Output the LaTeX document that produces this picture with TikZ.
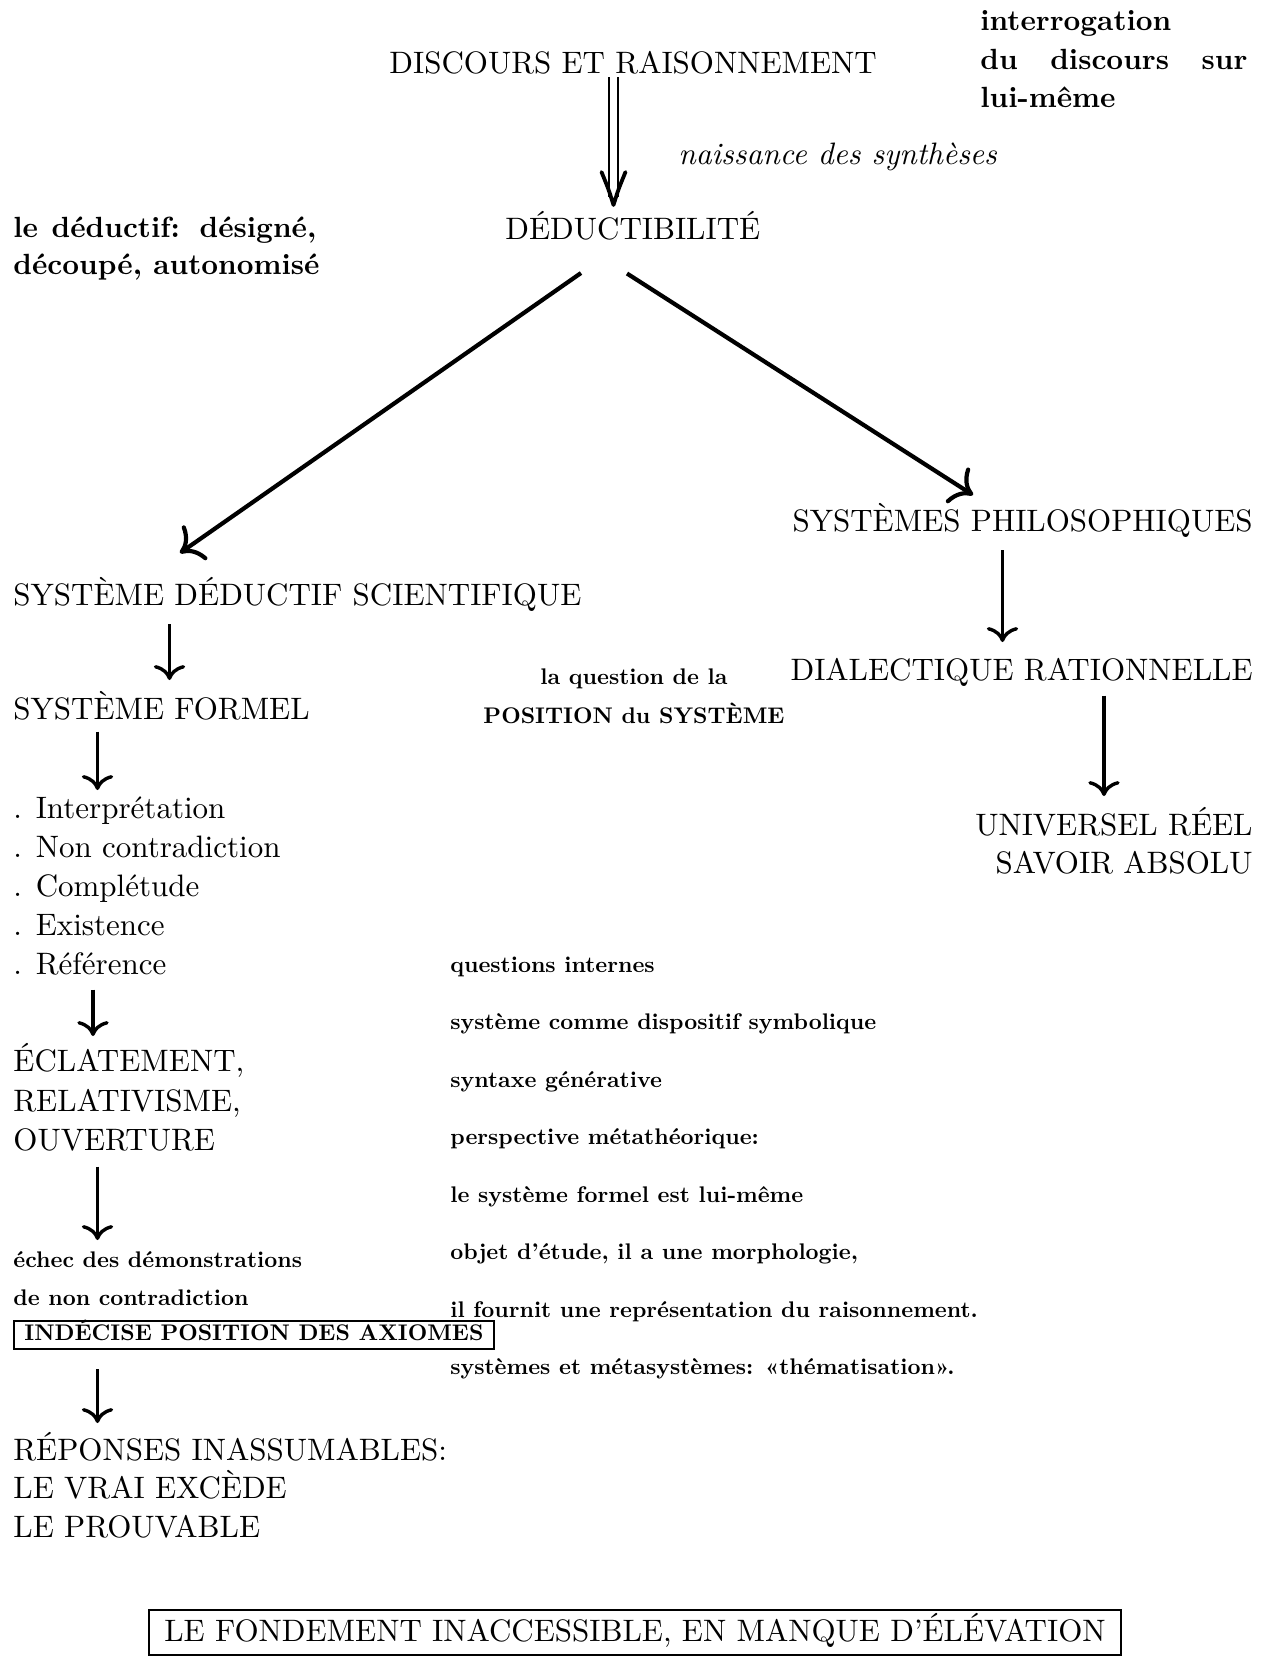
\documentclass[tikz,border=0pt]{standalone}
\usepackage{fontspec}
\setmainfont{lmroman10}[Extension=.otf, UprightFont=*-regular, BoldFont=*-bold, ItalicFont=*-italic, BoldItalicFont=*-bolditalic]
\usetikzlibrary{arrows.meta,calc}
\newcommand\fbig{\fontsize{15.5}{18}\selectfont}
\newcommand\fbold{\fontsize{14.6}{18}\selectfont\bfseries}
\newcommand\fsmall{\fontsize{11.3}{14}\selectfont\bfseries}
\tikzset{
  bigtxt/.style={font=\fbig, inner sep=0pt, text height=11.5pt, text depth=3pt},
  boldtxt/.style={font=\fbold, inner sep=0pt},
  smalltxt/.style={font=\fsmall, inner sep=0pt, text height=8pt, text depth=2.5pt},
  varr/.style={line width=1.7pt, -{Computer Modern Rightarrow[scale=1.4]}},
  darr/.style={line width=2.1pt, -{Computer Modern Rightarrow[scale=1.6]}},
  framed/.style={draw, line width=1pt},
  headstroke/.style={line width=1.9pt, line cap=round, line join=round}
}
\begin{document}
\begin{tikzpicture}[x=0.5pt,y=-0.5pt]
\useasboundingbox (0,0) rectangle (1263,1662);

% top
\node[bigtxt, anchor=base west] (dis) at (389,73) {DISCOURS ET RAISONNEMENT};
\node[boldtxt, anchor=base west] (ir1) at (980,30) {interrogation};
\node[boldtxt, anchor=base west] (ir2) at (980,69) {\makebox[133.5pt][s]{du discours sur}};
\node[boldtxt, anchor=base west] (ir3) at (980,107) {lui-même};
\node[bigtxt, font=\fbig\itshape, anchor=base west] (nai) at (678,164) {naissance des synthèses};
\node[bigtxt, anchor=base west] (ded) at (505,239) {DÉDUCTIBILITÉ};
\node[boldtxt, anchor=base west] (dd1) at (13,237) {\makebox[151.5pt][s]{le déductif: désigné,}};
\node[boldtxt, anchor=base west] (dd2) at (13,274) {découpé, autonomisé};

% double arrow
\coordinate (dtip) at ([xshift=54.25pt,yshift=17pt]ded.base west);
\draw[line width=1.2pt] ([xshift=110pt,yshift=-2pt]dis.base west) -- ([xshift=52pt,yshift=21pt]ded.base west);
\draw[line width=1.2pt] ([xshift=114.5pt,yshift=-2pt]dis.base west) -- ([xshift=56.5pt,yshift=21pt]ded.base west);
\draw[headstroke] ($(dtip)+(-12,-33)$) .. controls ($(dtip)+(-5,-16)$) .. (dtip)
                  .. controls ($(dtip)+(5,-16)$) .. ($(dtip)+(12,-33)$);

% right branch
\node[bigtxt, anchor=base east] (sp) at (1253,531) {SYSTÈMES PHILOSOPHIQUES};
\node[bigtxt, anchor=base east] (dr) at (1253,680) {DIALECTIQUE RATIONNELLE};
\node[bigtxt, anchor=base east] (ur) at (1253,835) {UNIVERSEL RÉEL};
\node[bigtxt, anchor=base east] (sa) at (1253,873) {SAVOIR ABSOLU};

% left branch
\node[bigtxt, anchor=base west] (sds) at (13,605) {SYSTÈME DÉDUCTIF SCIENTIFIQUE};
\node[bigtxt, anchor=base west] (sf) at (13,719) {SYSTÈME FORMEL};
\node[smalltxt, anchor=base] (q1) at (634,684) {la question de la};
\node[smalltxt, anchor=base] (q2) at (634,723) {POSITION du SYSTÈME};
\node[bigtxt, anchor=base west] (l1) at (13,818) {. Interprétation};
\node[bigtxt, anchor=base west] (l2) at (13,857) {. Non contradiction};
\node[bigtxt, anchor=base west] (l3) at (13,896) {. Complétude};
\node[bigtxt, anchor=base west] (l4) at (13,935) {. Existence};
\node[bigtxt, anchor=base west] (l5) at (13,974) {. Référence};
\node[bigtxt, anchor=base west] (e1) at (13,1071) {ÉCLATEMENT,};
\node[bigtxt, anchor=base west] (e2) at (13,1111) {RELATIVISME,};
\node[bigtxt, anchor=base west] (e3) at (13,1150) {OUVERTURE};
\node[smalltxt, anchor=base west] (ec1) at (13,1267) {échec des démonstrations};
\node[smalltxt, anchor=base west] (ec2) at (13,1305) {de non contradiction};
\node[smalltxt, framed, anchor=north west, minimum width=240pt, minimum height=14pt] (ind) at (13,1320) {INDÉCISE POSITION DES AXIOMES};
\node[bigtxt, anchor=base west] (r1) at (13,1460) {RÉPONSES INASSUMABLES:};
\node[bigtxt, anchor=base west] (r2) at (13,1498) {LE VRAI EXCÈDE};
\node[bigtxt, anchor=base west] (r3) at (13,1537) {LE PROUVABLE};

% right column
\node[smalltxt, anchor=base west] (c1) at (450,972) {questions internes};
\node[smalltxt, anchor=base west] (c2) at (450,1029.5) {système comme dispositif symbolique};
\node[smalltxt, anchor=base west] (c3) at (450,1087) {syntaxe générative};
\node[smalltxt, anchor=base west] (c4) at (450,1144.5) {perspective métathéorique:};
\node[smalltxt, anchor=base west] (c5) at (450,1202) {le système formel est lui-même};
\node[smalltxt, anchor=base west] (c6) at (450,1259.5) {objet d’étude, il a une morphologie,};
\node[smalltxt, anchor=base west] (c7) at (450,1317) {il fournit une représentation du raisonnement.};
\node[smalltxt, anchor=base west] (c8) at (450,1374.5) {systèmes et métasystèmes: «thématisation».};

% bottom box
\node[bigtxt, framed, minimum width=486pt, minimum height=22.5pt] (fond) at (635,1632.5) {LE FONDEMENT INACCESSIBLE, EN MANQUE D’ÉLÉVATION};

% diagonal arrows
\draw[darr] ([xshift=38pt,yshift=-17pt]ded.base west) -- ([xshift=83.5pt,yshift=26pt]sds.base west);
\draw[darr] ([xshift=61pt,yshift=-17.25pt]ded.base west) -- ([xshift=-140pt,yshift=18pt]sp.base east);

% vertical arrows
\draw[varr] ([xshift=78.25pt,yshift=-9.5pt]sds.base west) -- ([xshift=78.25pt,yshift=19.5pt]sf.base west);
\draw[varr] ([xshift=42.25pt,yshift=-6.25pt]sf.base west) -- ([xshift=42.25pt,yshift=14pt]l1.base west);
\draw[varr] ([xshift=-125.25pt,yshift=-9.5pt]sp.base east) -- ([xshift=-125.25pt,yshift=19pt]dr.base east);
\draw[varr] ([xshift=-74.5pt,yshift=-7.75pt]dr.base east) -- ([xshift=-74.5pt,yshift=19.5pt]ur.base east);
\draw[varr] ([xshift=40pt,yshift=-7.75pt]l5.base west) -- ([xshift=40pt,yshift=17.5pt]e1.base west);
\draw[varr] ([xshift=42.25pt,yshift=-8.25pt]e3.base west) -- ([xshift=42.25pt,yshift=13.5pt]ec1.base west);
\draw[varr] ([xshift=42.25pt,yshift=-9.5pt]ind.south west) -- ([xshift=42.25pt,yshift=18.5pt]r1.base west);
\end{tikzpicture}
\end{document}
